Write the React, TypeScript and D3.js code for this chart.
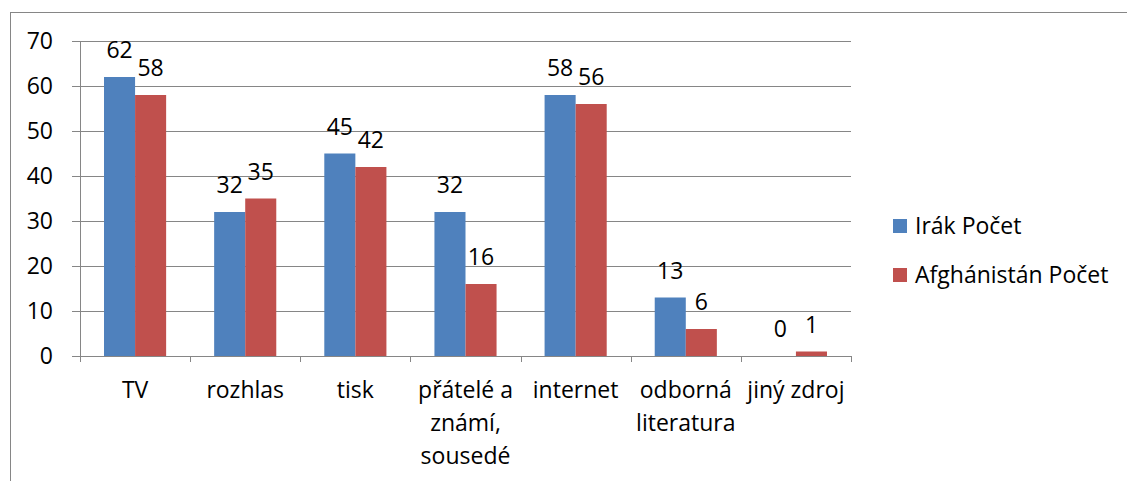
import React from "react";
import * as d3 from "d3";

const categories = [
  ["TV"],
  ["rozhlas"],
  ["tisk"],
  ["přátelé a", "známí,", "sousedé"],
  ["internet"],
  ["odborná", "literatura"],
  ["jiný zdroj"],
];
const seriesNames = ["Irák Počet", "Afghánistán Počet"];
const irak = [62, 32, 45, 32, 58, 13, 0];
const afghanistan = [58, 35, 42, 16, 56, 6, 1];
const yTicks = [0, 10, 20, 30, 40, 50, 60, 70];
const colors = ["#4F81BD", "#C0504D"];

export default function App() {
  const W = 1127, H = 481;
  const left = 80, right = 851, top = 41, bottom = 356;
  const font = "'Open Sans', sans-serif";
  const fs = 23;
  const keys = categories.map((c) => c.join(" "));
  const x0 = d3.scaleBand().domain(keys).range([left, right]).padding(0);
  const bw = x0.bandwidth();
  const x1 = d3.scaleBand().domain(seriesNames).range([bw * 0.218, bw * 0.782]).padding(0);
  const y = d3.scaleLinear().domain([0, 70]).range([bottom, top]);
  const data = [irak, afghanistan];
  const grid = "#868686";
  return (
    <svg width={W} height={H} style={{ position: "absolute", left: 0, top: 0 }}>
      <rect x={0} y={0} width={W} height={H} fill="#fff" />
      <rect x={10.5} y={12.5} width={W + 10} height={H + 10} fill="none" stroke={grid} strokeWidth={1} />
      {yTicks.map((t) => (
        <g key={t}>
          <line x1={left - 8} x2={right} y1={Math.round(y(t)) + 0.5} y2={Math.round(y(t)) + 0.5} stroke={grid} strokeWidth={1} />
          <text x={53} y={y(t)} dy="0.35em" textAnchor="end" fontFamily={font} fontSize={fs} fill="#000">{t}</text>
        </g>
      ))}
      <line x1={left + 0.5} x2={left + 0.5} y1={top} y2={bottom + 6} stroke={grid} />
      {keys.map((k, i) => (
        <line key={"tk" + i} x1={Math.round(x0(k)! + bw) + 0.5} x2={Math.round(x0(k)! + bw) + 0.5} y1={bottom} y2={bottom + 6} stroke={grid} />
      ))}
      {data.map((s, si) =>
        s.map((v, i) => {
          const bx = x0(keys[i])! + x1(seriesNames[si])!;
          return (
            <g key={si + "-" + i}>
              <rect x={bx} y={y(v)} width={x1.bandwidth()} height={bottom - y(v)} fill={colors[si]} />
              <text x={bx + x1.bandwidth() / 2} y={y(v) - 19} textAnchor="middle" fontFamily={font} fontSize={fs} fill="#000">{v}</text>
            </g>
          );
        })
      )}
      {categories.map((lines, i) => (
        <text key={"c" + i} x={x0(keys[i])! + bw / 2} y={398} textAnchor="middle" fontFamily={font} fontSize={fs} fill="#000">
          {lines.map((l, j) => (
            <tspan key={j} x={x0(keys[i])! + bw / 2} dy={j === 0 ? 0 : 33}>{l}</tspan>
          ))}
        </text>
      ))}
      {seriesNames.map((n, i) => (
        <g key={n}>
          <rect x={893} y={219 + i * 49} width={14} height={14} fill={colors[i]} />
          <text x={915} y={226 + i * 49} dy="0.35em" fontFamily={font} fontSize={fs} fill="#000">{n}</text>
        </g>
      ))}
    </svg>
  );
}
